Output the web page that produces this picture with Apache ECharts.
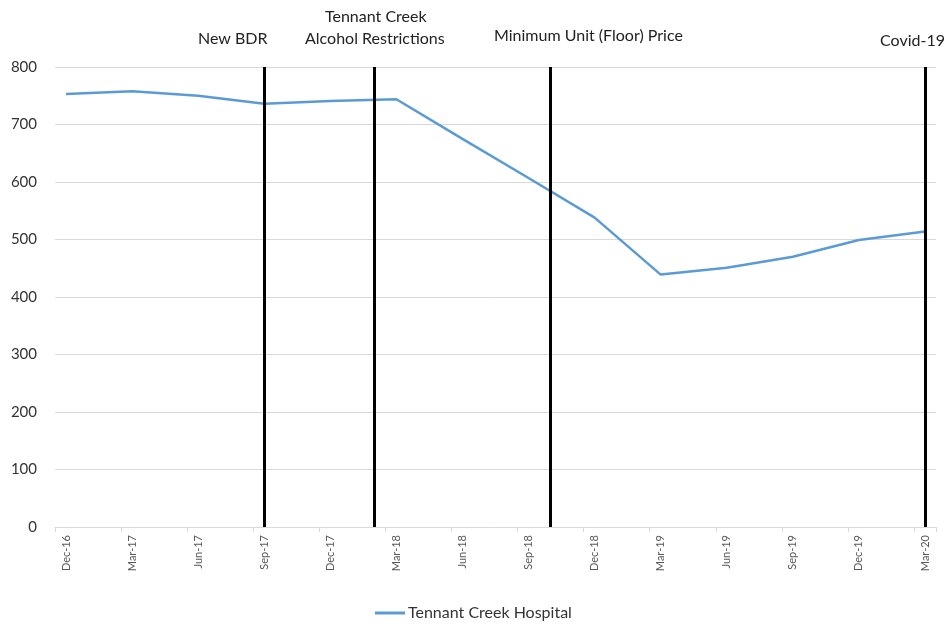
<!DOCTYPE html>
<html>
<head>
<meta charset="utf-8">
<script src="https://cdn.jsdelivr.net/npm/echarts@6/dist/echarts.min.js"></script>
<style>
  html, body { margin: 0; padding: 0; background: #fff; }
  #chart { width: 947px; height: 628px; }
</style>
</head>
<body>
<div id="chart"></div>
<script>
// Monthly date axis (Dec-16 .. Mar-20); only quarter months carry a label.
const months = [
  'Dec-16','Jan-17','Feb-17','Mar-17','Apr-17','May-17','Jun-17','Jul-17','Aug-17','Sep-17',
  'Oct-17','Nov-17','Dec-17','Jan-18','Feb-18','Mar-18','Apr-18','May-18','Jun-18','Jul-18',
  'Aug-18','Sep-18','Oct-18','Nov-18','Dec-18','Jan-19','Feb-19','Mar-19','Apr-19','May-19',
  'Jun-19','Jul-19','Aug-19','Sep-19','Oct-19','Nov-19','Dec-19','Jan-20','Feb-20','Mar-20'
];

// Quarterly observations
const quarters = [
  'Dec-16','Mar-17','Jun-17','Sep-17','Dec-17','Mar-18','Jun-18',
  'Sep-18','Dec-18','Mar-19','Jun-19','Sep-19','Dec-19','Mar-20'
];
const hospitalValues = [753, 758, 750, 736, 741, 744, 675, 607, 538, 439, 451, 470, 499, 514];

// Policy events: the month each marker line sits on
const eventMonths = ['Sep-17', 'Feb-18', 'Oct-18', 'Mar-20'];

const FONT = 'Lato, "Liberation Sans", sans-serif';
const NOTE_FONT = '16px ' + FONT;

const chart = echarts.init(document.getElementById('chart'), null, { renderer: 'canvas' });

const seriesData = quarters.map((q, i) => [q, hospitalValues[i]]);
const eventLines = eventMonths.map((m) => [
  { coord: [m, 800] },
  { coord: [m, 0] }
]);

chart.setOption({
  animation: false,
  backgroundColor: '#ffffff',
  grid: { left: 55, right: 11, top: 67, bottom: 101, containLabel: false },
  xAxis: {
    type: 'category',
    data: months,
    boundaryGap: true,
    axisLine: { lineStyle: { color: '#d9d9d9', width: 1 } },
    axisTick: {
      show: true,
      interval: (i) => i % 3 === 0,
      length: 5,
      lineStyle: { color: '#d9d9d9' }
    },
    axisLabel: {
      interval: (i) => i % 3 === 0,
      rotate: 90,
      fontFamily: FONT,
      fontSize: 11,
      color: '#595959',
      margin: 8
    },
    splitLine: { show: false }
  },
  yAxis: {
    type: 'value',
    min: 0,
    max: 800,
    interval: 100,
    axisLine: { show: false },
    axisTick: { show: false },
    axisLabel: { fontFamily: FONT, fontSize: 15, color: '#333333', margin: 18 },
    splitLine: { lineStyle: { color: '#d9d9d9', width: 1 } }
  },
  legend: {
    bottom: 2,
    left: 370,
    itemWidth: 30,
    itemHeight: 3,
    itemGap: 4,
    icon: 'rect',
    textStyle: { fontFamily: FONT, fontSize: 16, color: '#333333', padding: [0, 0, 0, -2] },
    data: ['Tennant Creek Hospital']
  },
  series: [{
    name: 'Tennant Creek Hospital',
    type: 'line',
    data: seriesData,
    showSymbol: false,
    symbol: 'none',
    lineStyle: { color: '#5b9bd5', width: 2.5 },
    itemStyle: { color: '#5b9bd5' },
    markLine: {
      silent: true,
      symbol: ['none', 'none'],
      label: { show: false },
      lineStyle: { color: '#000000', width: 3, type: 'solid' },
      data: eventLines
    }
  }],
  graphic: [
    { type: 'text', left: 198, top: 31, style: { text: 'New BDR', font: NOTE_FONT, fill: '#222222' } },
    { type: 'text', left: 325, top: 9, style: { text: 'Tennant Creek', font: NOTE_FONT, fill: '#222222' } },
    { type: 'text', left: 305, top: 31, style: { text: 'Alcohol Restrictions', font: NOTE_FONT, fill: '#222222' } },
    { type: 'text', left: 494, top: 28, style: { text: 'Minimum Unit (Floor) Price', font: NOTE_FONT, fill: '#222222' } },
    { type: 'text', left: 880, top: 33, style: { text: 'Covid-19', font: NOTE_FONT, fill: '#222222' } }
  ]
});
</script>
</body>
</html>
